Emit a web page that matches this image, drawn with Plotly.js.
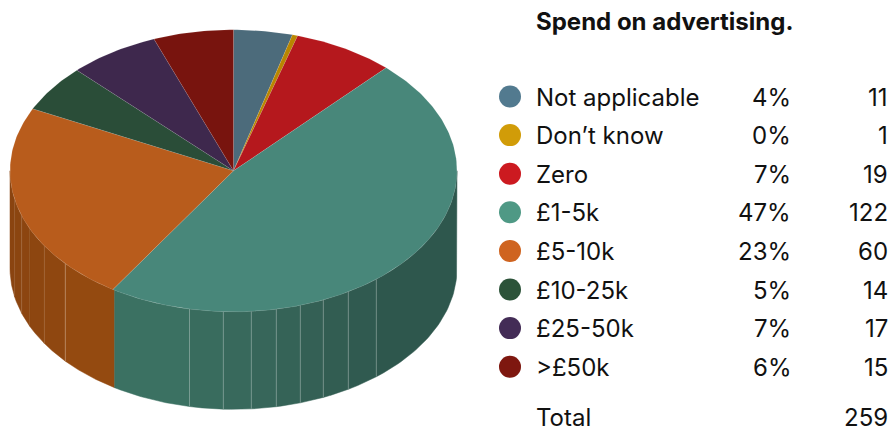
<!DOCTYPE html>
<html>
<head>
<meta charset="utf-8">
<script src="https://cdn.plot.ly/plotly-3.0.1.min.js"></script>
<style>html,body{margin:0;padding:0;background:#fff}#chart{width:894px;height:431px}</style>
</head>
<body>
<div id="chart"></div>
<script>
var chartTitle = "Spend on advertising.";
var categories = ["Not applicable", "Don\u2019t know", "Zero", "\u00A31-5k", "\u00A35-10k", "\u00A310-25k", "\u00A325-50k", ">\u00A350k"];
var counts = [11, 1, 19, 122, 60, 14, 17, 15];
var percents = ["4%", "0%", "7%", "47%", "23%", "5%", "7%", "6%"];
var totalLabel = "Total";
var totalCount = 259;
var topColors = ["#4c6b7b", "#b98600", "#b5181d", "#48877a", "#b85c1c", "#2a4d38", "#3e284d", "#78140e"];
var keyColors = ["#527a8f", "#d19c08", "#cc1a20", "#4f9985", "#cf6420", "#2c5339", "#432c56", "#7e170f"];

// pie geometry (screen units of the axes)
var cx = 233.5, cy = 170.8, rx = 223.5, ry = 141, depth = 97.5;
// side facet seams, their strength, and the facet shades, from the left rim to the right rim
var facetEdges = [10, 14.7, 21.7, 29.7, 44.3, 65.3, 114.6, 189.5, 223.3, 251.3, 276.3, 300.3, 323.3, 348.3, 376.3, 457];
var seamAlpha = [0, 0.08, 0.14, 0.03, 0.1, 0.28, 0, 0.28, 0.28, 0.28, 0.28, 0.28, 0.28, 0.28, 0.28, 0];
var facetColors = ["#8a4410", "#8b4510", "#8c4510", "#8d4610", "#8f4710", "#944a10",
  "#3b7162", "#396c5e", "#38695c", "#37665a", "#356357", "#346055", "#325d52", "#305a50", "#2e574d"];

function px(a) { return cx + rx * Math.sin(a); }
function py(a) { return cy - ry * Math.cos(a); }
function frontY(x) { var u = (x - cx) / rx; return cy + ry * Math.sqrt(Math.max(0, 1 - u * u)); }

var traces = [];
// side wall
for (var i = 0; i < facetColors.length; i++) {
  var xs = [], ys = [], n = 40, k;
  var a0 = Math.asin(Math.max(-1, Math.min(1, (facetEdges[i] - cx) / rx)));
  var a1 = Math.asin(Math.max(-1, Math.min(1, (facetEdges[i + 1] - cx) / rx)));
  for (k = 0; k <= n; k++) { var x = cx + rx * Math.sin(a0 + (a1 - a0) * k / n); xs.push(x); ys.push(frontY(x)); }
  for (k = n; k >= 0; k--) { var x2 = cx + rx * Math.sin(a0 + (a1 - a0) * k / n); xs.push(x2); ys.push(frontY(x2) + depth); }
  xs.push(xs[0]); ys.push(ys[0]);
  traces.push({type: "scatter", mode: "lines", x: xs, y: ys, fill: "toself", fillcolor: facetColors[i],
    line: {color: facetColors[i], width: 0.5}, hoverinfo: "skip", showlegend: false});
}
// seams between facets
for (var s = 1; s < facetEdges.length - 1; s++) {
  if (!seamAlpha[s]) continue;
  traces.push({type: "scatter", mode: "lines", x: [facetEdges[s], facetEdges[s]],
    y: [frontY(facetEdges[s]), frontY(facetEdges[s]) + depth],
    line: {color: "rgba(255,255,255," + seamAlpha[s] + ")", width: 1}, hoverinfo: "skip", showlegend: false});
}
// top face: slices from the counts
var sum = counts.reduce(function (p, c) { return p + c; }, 0), acc = 0;
counts.forEach(function (v, idx) {
  var start = acc / sum * 2 * Math.PI; acc += v;
  var end = acc / sum * 2 * Math.PI;
  var xs = [cx], ys = [cy], steps = Math.max(4, Math.ceil((end - start) * 60));
  for (var t = 0; t <= steps; t++) { var a = start + (end - start) * t / steps; xs.push(px(a)); ys.push(py(a)); }
  xs.push(cx); ys.push(cy);
  traces.push({type: "scatter", mode: "lines", x: xs, y: ys, fill: "toself", fillcolor: topColors[idx],
    line: {color: "rgba(255,255,255,0.15)", width: 0.6}, name: categories[idx], hoverinfo: "skip", showlegend: false});
});
// legend key dots
var rowStart = 96.5, rowStep = 38.6;
var rowY = categories.map(function (_, i) { return rowStart + i * rowStep; });
traces.push({type: "scatter", mode: "markers", x: categories.map(function () { return 510; }), y: rowY,
  marker: {size: 22, color: keyColors, line: {width: 0}}, hoverinfo: "skip", showlegend: false});

var font = "Inter, sans-serif";
var annotations = [];
function txt(x, y, text, anchor, size, bold) {
  annotations.push({xref: "x", yref: "y", x: x, y: y, text: bold ? "<b>" + text + "</b>" : text, showarrow: false,
    xanchor: anchor, yanchor: "middle", borderpad: 0, font: {family: font, size: size, color: "#111"}});
}
txt(535, 21, chartTitle, "left", 24, true);
categories.forEach(function (c, i) {
  txt(535, rowY[i] + 0.5, c, "left", 24, false);
  txt(792, rowY[i] + 0.5, percents[i], "right", 24, false);
  txt(889, rowY[i] + 0.5, String(counts[i]), "right", 24, false);
});
txt(535, 417, totalLabel, "left", 24, false);
txt(889, 417, String(totalCount), "right", 24, false);

var layout = {
  width: 894, height: 431, margin: {l: 0, r: 0, t: 0, b: 0},
  paper_bgcolor: "#fff", plot_bgcolor: "#fff", showlegend: false,
  xaxis: {range: [0, 894], visible: false, fixedrange: true},
  yaxis: {range: [431, 0], visible: false, fixedrange: true},
  annotations: annotations
};
Plotly.newPlot("chart", traces, layout, {displayModeBar: false, staticPlot: true});
</script>
</body>
</html>
